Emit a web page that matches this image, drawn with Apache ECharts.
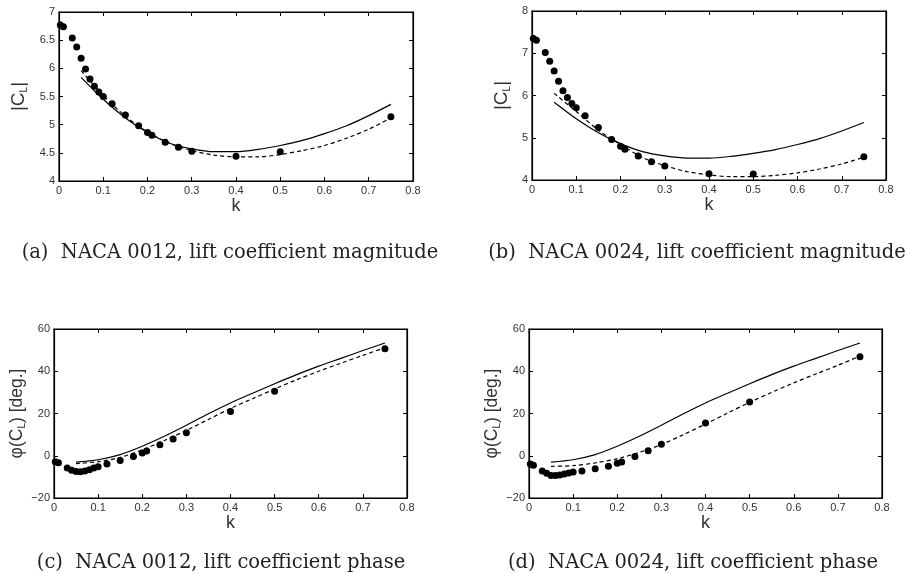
<!DOCTYPE html>
<html>
<head>
<meta charset="utf-8">
<script src="https://cdn.jsdelivr.net/npm/echarts@6/dist/echarts.min.js"></script>
<style>
  html, body { margin: 0; padding: 0; background: #fff; }
  #chart { width: 906px; height: 574px; }
</style>
</head>
<body>
<div id="chart"></div>
<script>
// measured points (k, value)
const kDots = [0.003, 0.01, 0.03, 0.04, 0.05, 0.06, 0.07, 0.08, 0.09, 0.1, 0.12, 0.15, 0.18, 0.2, 0.21, 0.24, 0.27, 0.3, 0.4, 0.5, 0.75]
const magDots12 = [6.77, 6.74, 6.54, 6.38, 6.18, 5.99, 5.81, 5.68, 5.58, 5.50, 5.37, 5.17, 4.98, 4.86, 4.81, 4.69, 4.60, 4.53, 4.44, 4.52, 5.14]
const magDots24 = [7.35, 7.31, 7.02, 6.81, 6.58, 6.34, 6.11, 5.95, 5.81, 5.71, 5.52, 5.24, 4.96, 4.80, 4.73, 4.57, 4.43, 4.33, 4.15, 4.14, 4.55]
const phaseDots12 = [-2.8, -3.3, -5.8, -6.9, -7.4, -7.6, -7.2, -6.6, -5.8, -5.2, -3.9, -2.3, -0.3, 1.3, 2.2, 5.2, 7.9, 10.9, 21.0, 30.5, 50.7]
const phaseDots24 = [-3.9, -4.5, -7.2, -8.3, -9.3, -9.4, -9.1, -8.6, -8.2, -7.7, -7.2, -6.1, -5.0, -3.6, -3.0, -0.3, 2.4, 5.4, 15.5, 25.4, 46.9]

// curves (solid = theory, dashed = model)
const kCurve = [0.05, 0.1, 0.15, 0.2, 0.25, 0.3, 0.35, 0.4, 0.45, 0.5, 0.55, 0.6, 0.65, 0.7, 0.75]
const magTheory = [5.84, 5.45, 5.12, 4.86, 4.67, 4.57, 4.52, 4.52, 4.56, 4.63, 4.72, 4.84, 4.98, 5.16, 5.36]
const magModel12 = [5.96, 5.52, 5.15, 4.87, 4.67, 4.54, 4.46, 4.43, 4.43, 4.47, 4.54, 4.63, 4.76, 4.92, 5.12]
const magModel24 = [6.05, 5.62, 5.18, 4.84, 4.53, 4.34, 4.20, 4.12, 4.08, 4.08, 4.11, 4.17, 4.26, 4.38, 4.54]
const phaseTheory = [-3.0, -1.9, 0.5, 4.5, 9.2, 14.4, 19.9, 25.0, 29.6, 34.1, 38.4, 42.4, 46.1, 49.8, 53.4]
const phaseModel12 = [-3.7, -2.8, -0.8, 2.8, 7.2, 12.0, 17.2, 22.4, 27.0, 31.6, 36.0, 40.0, 43.8, 47.5, 51.2]
const phaseModel24 = [-5.0, -4.7, -3.4, -1.4, 1.6, 5.3, 10.0, 15.0, 20.2, 25.3, 30.0, 34.5, 38.7, 42.8, 47.2]

const captions = [
    '(a)  NACA 0012, lift coefficient magnitude',
    '(b)  NACA 0024, lift coefficient magnitude',
    '(c)  NACA 0012, lift coefficient phase',
    '(d)  NACA 0024, lift coefficient phase',
]

const magName = '{n||C}{s|L}{n||}'
const phaseName = '{n|φ(C}{s|L}{n|) [deg.]}'

const panels = [
    { grid: { left: 59, top: 12, width: 354, height: 169 }, yMin: 4, yMax: 7, yStep: 0.5, yName: magName, nameGap: 30, nameSize: 19, dots: magDots12, theory: magTheory, model: magModel12, capX: 225, capY: 238 },
    { grid: { left: 532, top: 11, width: 354, height: 169 }, yMin: 4, yMax: 8, yStep: 1, yName: magName, nameGap: 20, nameSize: 19, dots: magDots24, theory: magTheory, model: magModel24, capX: 692, capY: 238 },
    { grid: { left: 54, top: 329, width: 353, height: 169 }, yMin: -20, yMax: 60, yStep: 20, yName: phaseName, nameGap: 13, nameSize: 17.5, dots: phaseDots12, theory: phaseTheory, model: phaseModel12, capX: 216, capY: 548 },
    { grid: { left: 529, top: 329, width: 353, height: 169 }, yMin: -20, yMax: 60, yStep: 20, yName: phaseName, nameGap: 20, nameSize: 17.5, dots: phaseDots24, theory: phaseTheory, model: phaseModel24, capX: 688, capY: 548 },
]

const tickFont = { fontFamily: 'Liberation Sans', fontSize: 11, color: '#333' }
const minus = v => String(v).replace('-', '\u2212')

const grid = [], xAxis = [], yAxis = [], series = [], title = []

panels.forEach((p, i) => {
    grid.push(Object.assign({ show: true, borderColor: '#000', borderWidth: 1.2 }, p.grid))
    title.push({
        text: captions[i], left: p.capX, top: p.capY, textAlign: 'center',
        textStyle: { fontFamily: 'DejaVu Serif', fontSize: 19.5, fontWeight: 'normal', color: '#222' },
    })
    // bottom / top x axes
    xAxis.push({
        type: 'value', gridIndex: i, min: 0, max: 0.8, interval: 0.1,
        name: 'k', nameLocation: 'middle', nameGap: 15,
        nameTextStyle: { fontFamily: 'Liberation Sans', fontSize: 18, color: '#333' },
        axisLine: { onZero: false, lineStyle: { color: '#000', width: 1.2 } },
        axisTick: { inside: true, length: 4, lineStyle: { color: '#000' } },
        axisLabel: Object.assign({ margin: 4, formatter: minus }, tickFont),
        splitLine: { show: false },
    })
    xAxis.push({
        type: 'value', gridIndex: i, position: 'top', min: 0, max: 0.8, interval: 0.1,
        axisLine: { onZero: false, lineStyle: { color: '#000', width: 1.2 } },
        axisTick: { inside: true, length: 4, lineStyle: { color: '#000' } },
        axisLabel: { show: false }, splitLine: { show: false },
    })
    yAxis.push({
        type: 'value', gridIndex: i, min: p.yMin, max: p.yMax, interval: p.yStep,
        name: p.yName, nameLocation: 'middle', nameGap: p.nameGap, nameRotate: 90,
        nameTextStyle: {
            rich: {
                n: { fontFamily: 'Liberation Sans', fontSize: p.nameSize, color: '#333' },
                s: { fontFamily: 'Liberation Sans', fontSize: 10, color: '#333', verticalAlign: 'bottom', padding: [10, 0, 0, 0] },
            },
        },
        axisLine: { onZero: false, lineStyle: { color: '#000', width: 1.2 } },
        axisTick: { inside: true, length: 4, lineStyle: { color: '#000' } },
        axisLabel: Object.assign({ margin: 4, formatter: minus }, tickFont),
        splitLine: { show: false },
    })
    yAxis.push({
        type: 'value', gridIndex: i, position: 'right', min: p.yMin, max: p.yMax, interval: p.yStep,
        axisLine: { onZero: false, lineStyle: { color: '#000', width: 1.2 } },
        axisTick: { inside: true, length: 4, lineStyle: { color: '#000' } },
        axisLabel: { show: false }, splitLine: { show: false },
    })
    const xi = i * 2, yi = i * 2
    series.push({
        type: 'line', xAxisIndex: xi, yAxisIndex: yi, smooth: 0.3, symbol: 'none',
        lineStyle: { color: '#000', width: 1.2 },
        data: kCurve.map((k, j) => [k, p.theory[j]]),
    })
    series.push({
        type: 'line', xAxisIndex: xi, yAxisIndex: yi, smooth: 0.3, symbol: 'none',
        lineStyle: { color: '#000', width: 1.2, type: [4, 3] },
        data: kCurve.map((k, j) => [k, p.model[j]]),
    })
    series.push({
        type: 'scatter', xAxisIndex: xi, yAxisIndex: yi, symbol: 'circle', symbolSize: 7,
        itemStyle: { color: '#000', opacity: 1 },
        data: kDots.map((k, j) => [k, p.dots[j]]),
    })
})

const chart = echarts.init(document.getElementById('chart'))
chart.setOption({
    animation: false,
    backgroundColor: '#fff',
    title, grid, xAxis, yAxis, series,
})
</script>
</body>
</html>
